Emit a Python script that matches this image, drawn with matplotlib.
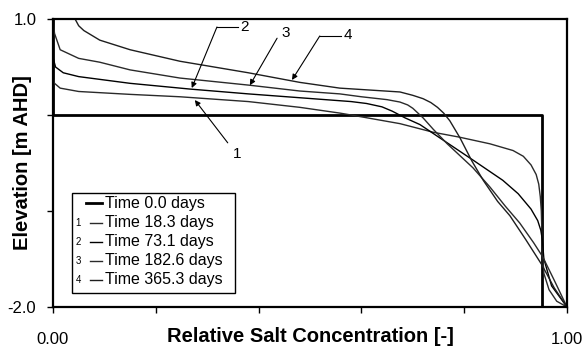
import matplotlib.pyplot as plt
from matplotlib.patches import Rectangle
import numpy as np

plt.rcParams['font.family'] = ['Liberation Sans', 'DejaVu Sans']

# salt concentration profiles (relative conc. vs elevation)
x0 = [0.0, 0.0, 0.951, 0.951]
y0 = [1.0, 0.0, 0.0, -2.0]

x1 = [0.0, 0.0, 0.003, 0.014, 0.05, 0.15, 0.247, 0.38, 0.48, 0.558, 0.58, 0.675, 0.74, 0.79,
      0.85, 0.895, 0.915, 0.93, 0.940, 0.945, 0.948, 0.950, 0.952, 0.955, 0.965, 0.98, 1.0]
y1 = [1.0, 0.40, 0.33, 0.28, 0.245, 0.215, 0.19, 0.14, 0.08, 0.02, 0.0, -0.09, -0.18, -0.23,
      -0.30, -0.37, -0.43, -0.52, -0.62, -0.72, -0.85, -1.0, -1.4, -1.65, -1.82, -1.94, -2.0]

x2 = [0.0, 0.0, 0.005, 0.02, 0.05, 0.15, 0.267, 0.38, 0.48, 0.58, 0.61, 0.64, 0.66, 0.685,
      0.714, 0.767, 0.82, 0.875, 0.905, 0.93, 0.943, 0.949, 0.952, 0.955, 0.97, 1.0]
y2 = [1.0, 0.60, 0.50, 0.44, 0.40, 0.33, 0.27, 0.22, 0.18, 0.14, 0.12, 0.085, 0.04, -0.03,
      -0.10, -0.29, -0.48, -0.68, -0.82, -0.98, -1.10, -1.20, -1.30, -1.5, -1.78, -2.0]

x3 = [0.0, 0.003, 0.014, 0.05, 0.091, 0.15, 0.247, 0.383, 0.48, 0.558, 0.60, 0.65, 0.675, 0.69,
      0.70, 0.72, 0.74, 0.767, 0.817, 0.85, 0.88, 0.908, 0.935, 0.953, 0.975, 1.0]
y3 = [1.0, 0.85, 0.68, 0.59, 0.55, 0.47, 0.385, 0.31, 0.25, 0.22, 0.19, 0.16, 0.135, 0.105,
      0.07, -0.03, -0.15, -0.30, -0.55, -0.75, -0.95, -1.125, -1.33, -1.48, -1.72, -2.0]

x4 = [0.043, 0.05, 0.06, 0.091, 0.15, 0.247, 0.38, 0.48, 0.558, 0.675, 0.70, 0.72, 0.735,
      0.748, 0.76, 0.772, 0.792, 0.815, 0.837, 0.865, 0.889, 0.92, 0.951, 0.975, 1.0]
y4 = [1.0, 0.93, 0.88, 0.78, 0.68, 0.56, 0.44, 0.34, 0.28, 0.24, 0.205, 0.17, 0.13,
      0.08, 0.02, -0.06, -0.24, -0.48, -0.68, -0.90, -1.05, -1.30, -1.56, -1.80, -2.0]

labels = ['Time 0.0 days', 'Time 18.3 days', 'Time 73.1 days', 'Time 182.6 days', 'Time 365.3 days']
numbers = ['', '1', '2', '3', '4']
colors = ['black', '#2a2a2a', 'black', '#2a2a2a', '#1e1e1e']
widths = [2.0, 1.0, 1.0, 1.0, 1.0]

fig = plt.figure(figsize=(5.86, 3.47), dpi=100)
ax = fig.add_axes([0.0904, 0.1153, 0.8772, 0.8299])

series = [(x0, y0), (x1, y1), (x2, y2), (x3, y3), (x4, y4)]
for (xs, ys), c, w in zip(series, colors, widths):
    ax.plot(xs, ys, color=c, lw=w, solid_joinstyle='round')

ax.set_xlim(0, 1)
ax.set_ylim(-2, 1)
ax.set_xticks(np.arange(0, 1.01, 0.2))
ax.set_xticklabels(['0.00', '', '', '', '', '1.00'])
ax.set_yticks([-2, -1, 0, 1])
ax.set_yticklabels(['-2.0', '', '', '1.0'])
ax.tick_params(direction='out', length=4, width=1, labelsize=12)
ax.tick_params(axis='x', pad=14)
ax.tick_params(axis='y', pad=8)
for s in ax.spines.values():
    s.set_linewidth(1.6)

ax.set_xlabel('Relative Salt Concentration [-]', fontsize=14.5, fontweight='bold')
ax.set_ylabel('Elevation [m AHD]', fontsize=14.5, fontweight='bold')
ax.xaxis.set_label_coords(0.5, -0.07)
ax.yaxis.set_label_coords(-0.04, 0.5)

# callouts
arrow = dict(arrowstyle='-|>', color='black', lw=0.8, mutation_scale=8, shrinkA=0, shrinkB=0)
ax.annotate('', xy=(0.270, 0.281), xytext=(0.319, 0.917), arrowprops=arrow)
ax.plot([0.319, 0.36], [0.917, 0.917], color='black', lw=0.8)
ax.text(0.365, 0.917, '2', fontsize=11, va='center', ha='left')

ax.annotate('', xy=(0.383, 0.31), xytext=(0.436, 0.80), arrowprops=arrow)
ax.text(0.445, 0.855, '3', fontsize=11, va='center', ha='left')

ax.annotate('', xy=(0.465, 0.365), xytext=(0.519, 0.823), arrowprops=arrow)
ax.plot([0.519, 0.56], [0.823, 0.823], color='black', lw=0.8)
ax.text(0.565, 0.83, '4', fontsize=11, va='center', ha='left')

ax.annotate('', xy=(0.276, 0.156), xytext=(0.34, -0.29), arrowprops=arrow)
ax.text(0.35, -0.41, '1', fontsize=11, va='center', ha='left')

# legend drawn by hand so the curve numbers sit left of each handle
ax.add_patch(Rectangle((0.037, 0.049), 0.317, 0.347, transform=ax.transAxes,
                       facecolor='white', edgecolor='black', lw=1, zorder=5))
rows = [0.361, 0.292, 0.226, 0.160, 0.094]
for r, lab, num, c, w in zip(rows, labels, numbers, colors, widths):
    x_start = 0.064 if num == '' else 0.072
    ax.plot([x_start, 0.095], [r, r], color=c, lw=w, transform=ax.transAxes, zorder=6)
    ax.text(0.049, r, num, fontsize=7, va='center', ha='center', transform=ax.transAxes, zorder=6)
    ax.text(0.101, r, lab, fontsize=11.5, va='center', ha='left', transform=ax.transAxes, zorder=6)

fig.savefig('out.png', dpi=100)
